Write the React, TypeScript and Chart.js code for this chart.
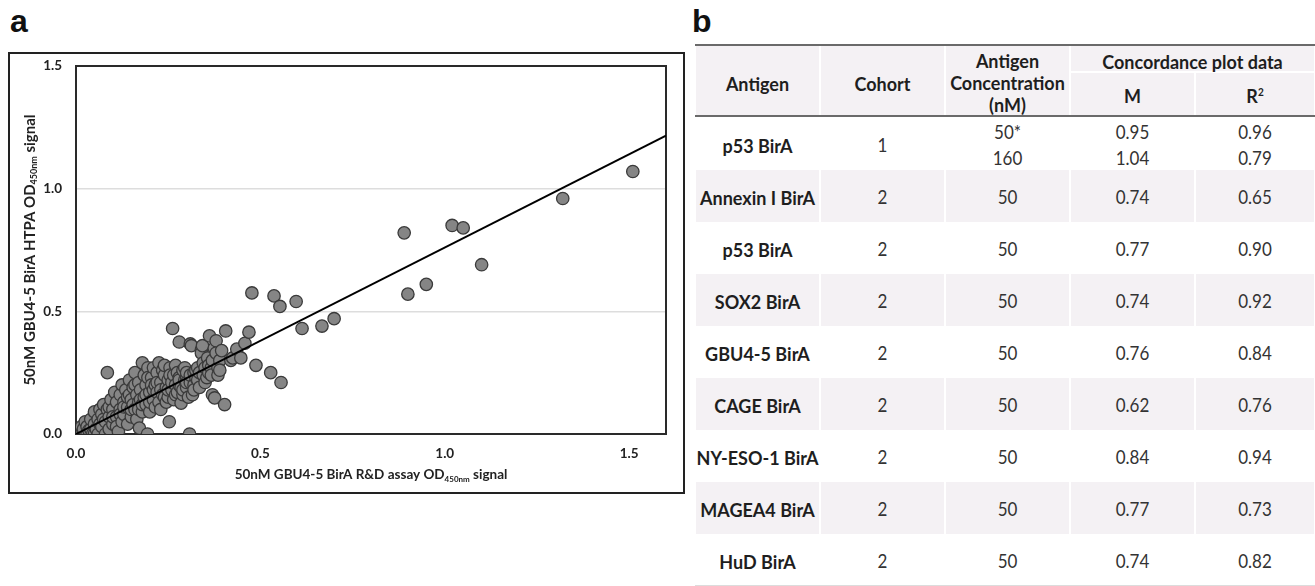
import React, { useEffect, useRef } from "react";
import { Chart, registerables } from "chart.js";

Chart.register(...registerables);

// ---------- Panel a: scatter data (R&D assay OD, HTPA OD) ----------
const concordancePoints: [number, number][] = [
  [0.0, 0.0], [0.005, 0.01], [0.01, 0.0], [0.015, 0.03], [0.02, 0.01], [0.02, 0.02], [0.025, 0.05], [0.03, 0.0], [0.03, 0.03], [0.035, 0.015],
  [0.04, 0.02], [0.04, 0.06], [0.045, 0.0], [0.05, 0.04], [0.05, 0.09], [0.05, 0.0], [0.055, 0.02], [0.06, 0.06], [0.06, 0.0], [0.065, 0.1], [0.065, 0.04],
  [0.07, 0.03], [0.07, 0.08], [0.075, 0.12], [0.075, 0.06], [0.08, 0.05], [0.08, 0.0], [0.085, 0.1], [0.085, 0.25], [0.09, 0.02], [0.09, 0.07], [0.09, 0.11], [0.095, 0.14],
  [0.1, 0.04], [0.1, 0.1], [0.1, 0.07], [0.105, 0.17], [0.11, 0.07], [0.11, 0.13], [0.11, 0.03], [0.115, 0.01], [0.12, 0.1], [0.12, 0.16], [0.12, 0.08], [0.125, 0.05], [0.125, 0.2],
  [0.13, 0.08], [0.13, 0.13], [0.13, 0.11], [0.135, 0.18], [0.14, 0.04], [0.14, 0.11], [0.14, 0.15], [0.145, 0.16], [0.145, 0.22], [0.15, 0.07], [0.15, 0.14], [0.15, 0.1], [0.155, 0.19], [0.155, 0.12],
  [0.16, 0.1], [0.16, 0.25], [0.16, 0.2], [0.165, 0.16], [0.165, 0.06], [0.17, 0.13], [0.17, 0.21], [0.17, 0.1], [0.172, 0.024], [0.175, 0.18], [0.175, 0.14], [0.18, 0.09], [0.18, 0.29], [0.18, 0.12], [0.185, 0.15], [0.185, 0.24],
  [0.19, 0.12], [0.19, 0.2], [0.19, 0.16], [0.194, 0.0], [0.195, 0.27], [0.195, 0.23], [0.2, 0.09], [0.2, 0.17], [0.2, 0.13], [0.205, 0.23], [0.205, 0.2], [0.21, 0.14], [0.21, 0.27], [0.21, 0.18], [0.215, 0.11], [0.215, 0.2],
  [0.22, 0.17], [0.22, 0.25], [0.22, 0.21], [0.225, 0.13], [0.225, 0.29], [0.23, 0.21], [0.23, 0.1], [0.23, 0.18], [0.235, 0.16], [0.235, 0.26], [0.24, 0.24], [0.24, 0.28], [0.24, 0.15], [0.245, 0.13], [0.245, 0.19],
  [0.25, 0.22], [0.25, 0.15], [0.25, 0.18], [0.253, 0.05], [0.255, 0.27], [0.255, 0.24], [0.26, 0.18], [0.26, 0.21], [0.262, 0.43], [0.265, 0.24], [0.265, 0.14], [0.27, 0.2], [0.27, 0.28], [0.27, 0.16],
  [0.275, 0.17], [0.275, 0.25], [0.28, 0.23], [0.28, 0.375], [0.28, 0.2], [0.28, 0.22], [0.285, 0.126], [0.285, 0.19], [0.29, 0.26], [0.29, 0.16], [0.29, 0.18], [0.295, 0.22], [0.295, 0.27],
  [0.3, 0.19], [0.3, 0.23], [0.3, 0.25], [0.3, 0.21], [0.305, 0.15], [0.308, 0.0], [0.31, 0.367], [0.31, 0.21], [0.31, 0.24], [0.313, 0.36], [0.316, 0.16], [0.32, 0.2], [0.32, 0.25], [0.32, 0.18],
  [0.325, 0.23], [0.325, 0.26], [0.33, 0.22], [0.33, 0.27], [0.335, 0.19], [0.335, 0.25], [0.34, 0.343], [0.34, 0.33], [0.343, 0.36], [0.345, 0.24], [0.345, 0.29], [0.35, 0.27], [0.35, 0.21], [0.355, 0.23],
  [0.357, 0.31], [0.36, 0.25], [0.36, 0.28], [0.362, 0.4], [0.367, 0.27], [0.367, 0.24], [0.37, 0.16], [0.37, 0.3], [0.375, 0.35], [0.376, 0.147], [0.38, 0.38], [0.38, 0.33], [0.385, 0.27], [0.385, 0.24], [0.39, 0.3], [0.39, 0.26], [0.395, 0.34],
  [0.403, 0.12], [0.406, 0.42], [0.42, 0.3], [0.425, 0.31], [0.436, 0.346], [0.447, 0.31], [0.458, 0.37], [0.469, 0.415], [0.477, 0.575], [0.488, 0.28],
  [0.528, 0.25], [0.537, 0.563], [0.553, 0.52], [0.556, 0.21], [0.597, 0.54], [0.613, 0.43], [0.667, 0.44], [0.7, 0.47],
  [0.89, 0.82], [0.9, 0.57], [0.95, 0.61], [1.02, 0.85], [1.05, 0.84], [1.1, 0.69], [1.32, 0.96], [1.51, 1.07],
];

// regression line end points (slope M = 0.76)
const fitX = [0, 1.6];
const fitY = [0, 1.216];

const xTickValues = [0, 0.5, 1.0, 1.5];
const yTickValues = [0, 0.5, 1.0, 1.5];

const xTitleParts: [string, boolean][] = [["50nM GBU4-5 BirA R&D assay OD", false], ["450nm", true], [" signal", false]];
const yTitleParts: [string, boolean][] = [["50nM GBU4-5 BirA HTPA OD", false], ["450nm", true], [" signal", false]];

// ---------- Panel b: table data ----------
const antigenNames = ["p53 BirA", "Annexin I BirA", "p53 BirA", "SOX2 BirA", "GBU4-5 BirA", "CAGE BirA", "NY-ESO-1 BirA", "MAGEA4 BirA", "HuD BirA"];
const cohorts = ["1", "2", "2", "2", "2", "2", "2", "2", "2"];
const concentrations = [["50*", "160"], ["50"], ["50"], ["50"], ["50"], ["50"], ["50"], ["50"], ["50"]];
const mValues = [["0.95", "1.04"], ["0.74"], ["0.77"], ["0.74"], ["0.76"], ["0.62"], ["0.84"], ["0.77"], ["0.74"]];
const r2Values = [["0.96", "0.79"], ["0.65"], ["0.90"], ["0.92"], ["0.84"], ["0.76"], ["0.94"], ["0.73"], ["0.82"]];

const FONT = "Lato, 'Open Sans', sans-serif";

function drawRich(ctx: CanvasRenderingContext2D, parts: [string, boolean][], cx: number, cy: number, rotate: boolean, size: number) {
  const mainFont = `bold ${size}px ${FONT}`;
  const subFont = `bold ${Math.round(size * 0.6)}px ${FONT}`;
  const widths = parts.map(([t, s]) => {
    ctx.font = s ? subFont : mainFont;
    return ctx.measureText(t).width;
  });
  const total = widths.reduce((a, b) => a + b, 0);
  ctx.save();
  ctx.translate(cx, cy);
  if (rotate) ctx.rotate(-Math.PI / 2);
  ctx.fillStyle = "#222";
  ctx.textBaseline = "middle";
  ctx.textAlign = "left";
  let x = -total / 2;
  parts.forEach(([t, s], i) => {
    ctx.font = s ? subFont : mainFont;
    ctx.fillText(t, x, s ? size * 0.3 : 0);
    x += widths[i];
  });
  ctx.restore();
}

const framePlugin = {
  id: "plotFrame",
  beforeDatasetsDraw(chart: any) {
    const { ctx, chartArea: a } = chart;
    ctx.save();
    ctx.strokeStyle = "#2a2a2a";
    ctx.lineWidth = 2;
    ctx.strokeRect(a.left, a.top, a.right - a.left, a.bottom - a.top);
    ctx.restore();
  },
  afterDraw(chart: any) {
    const { ctx, chartArea: a } = chart;
    drawRich(ctx, xTitleParts, (a.left + a.right) / 2, a.bottom + 41, false, 13.5);
    drawRich(ctx, yTitleParts, a.left - 46, (a.top + a.bottom) / 2, true, 15);
  },
};

function Scatter() {
  const ref = useRef<HTMLCanvasElement>(null);
  useEffect(() => {
    if (!ref.current) return;
    const chart = new Chart(ref.current, {
      type: "scatter",
      data: {
        datasets: [
          {
            type: "line",
            data: fitX.map((x, i) => ({ x, y: fitY[i] })),
            borderColor: "#000",
            borderWidth: 2,
            pointRadius: 0,
            fill: false,
            order: 0,
          } as any,
          {
            data: concordancePoints.map(([x, y]) => ({ x, y })),
            backgroundColor: "#858585",
            borderColor: "#3a3a3a",
            borderWidth: 1.3,
            pointRadius: 6.2,
            order: 1,
          },
        ],
      },
      options: {
        animation: false,
        responsive: false,
        plugins: { legend: { display: false }, tooltip: { enabled: false } },
        layout: { padding: { left: 0, top: 12, right: 17, bottom: 0 } },
        scales: {
          x: {
            type: "linear",
            min: 0,
            max: 1.6,
            afterFit: (s: any) => { s.height = 58; },
            afterBuildTicks: (s: any) => { s.ticks = xTickValues.map((v) => ({ value: v })); },
            grid: { display: false, drawTicks: false },
            border: { display: false },
            ticks: {
              padding: 12,
              color: "#222",
              font: { family: FONT, size: 13.5, weight: "bold" },
              callback: (v: any) => Number(v).toFixed(1),
            },
          },
          y: {
            type: "linear",
            min: 0,
            max: 1.5,
            afterFit: (s: any) => { s.width = 66; s.paddingTop = 0; s.paddingBottom = 0; },
            afterBuildTicks: (s: any) => { s.ticks = yTickValues.map((v) => ({ value: v })); },
            grid: {
              drawTicks: false,
              lineWidth: 1.5,
              color: (c: any) => (c.tick && (c.tick.value === 0.5 || c.tick.value === 1) ? "#dddddd" : "rgba(0,0,0,0)"),
            },
            border: { display: false },
            ticks: {
              padding: 14,
              color: "#222",
              font: { family: FONT, size: 13.5, weight: "bold" },
              callback: (v: any) => Number(v).toFixed(1),
            },
          },
        },
      },
      plugins: [framePlugin],
    } as any);
    return () => chart.destroy();
  }, []);
  return <canvas ref={ref} width={673} height={438} style={{ position: "absolute", left: 0, top: 0, width: 673, height: 438 }} />;
}

const colLeft = [695, 820, 945, 1070, 1195];
const colWidth = [125, 125, 125, 125, 120];
const SHADE = "#f4f1f4";

function cellStyle(left: number, top: number, width: number, height: number, bg?: string): React.CSSProperties {
  return {
    position: "absolute",
    left,
    top,
    width,
    height,
    background: bg || "transparent",
    display: "flex",
    flexDirection: "column",
    alignItems: "center",
    justifyContent: "center",
    textAlign: "center",
    boxSizing: "border-box",
  };
}

function Table() {
  const headBold: React.CSSProperties = { fontFamily: FONT, fontWeight: 700, fontSize: 18, color: "#1e1e1e", lineHeight: "22px", whiteSpace: "nowrap", transform: "scaleY(1.08)" };
  const nameStyle: React.CSSProperties = { fontFamily: FONT, fontWeight: 700, fontSize: 18, color: "#1e1e1e", lineHeight: "22px", whiteSpace: "nowrap", transform: "scaleY(1.08)" };
  const valStyle: React.CSSProperties = { fontFamily: FONT, fontWeight: 400, fontSize: 17, color: "#333", lineHeight: "26px", whiteSpace: "nowrap", transform: "scaleY(1.15)" };
  const rows: JSX.Element[] = [];
  antigenNames.forEach((name, i) => {
    const top = i === 0 ? 117 : 170 + (i - 1) * 52;
    const h = i === 0 ? 53 : 52;
    const bg = i % 2 === 1 ? SHADE : undefined;
    const cols = [[name], [cohorts[i]], concentrations[i], mValues[i], r2Values[i]];
    cols.forEach((lines, c) => {
      rows.push(
        <div key={`r${i}c${c}`} style={{ ...cellStyle(colLeft[c] + 1, top, colWidth[c] - 2, h, bg), paddingTop: 2 }}>
          {lines.map((t, k) => (
            <div key={k} style={c === 0 ? nameStyle : valStyle}>{t}</div>
          ))}
        </div>
      );
    });
  });
  return (
    <>
      <div style={{ position: "absolute", left: 695, top: 44, width: 620, height: 73, borderTop: "2px solid #6a6a6a", borderBottom: "2px solid #6a6a6a", boxSizing: "border-box", background: "#fff" }} />
      <div style={{ ...cellStyle(colLeft[0] + 1, 46, colWidth[0] - 2, 69, SHADE), paddingTop: 5 }}><div style={headBold}>Antigen</div></div>
      <div style={{ ...cellStyle(colLeft[1] + 1, 46, colWidth[1] - 2, 69, SHADE), paddingTop: 5 }}><div style={headBold}>Cohort</div></div>
      <div style={{ ...cellStyle(colLeft[2] + 1, 46, colWidth[2] - 2, 69, SHADE), paddingTop: 2 }}>
        <div style={headBold}>Antigen</div>
        <div style={headBold}>Concentration</div>
        <div style={headBold}>(nM)</div>
      </div>
      <div style={{ ...cellStyle(colLeft[3] + 1, 46, colWidth[3] + colWidth[4] - 2, 25, SHADE), paddingTop: 4 }}><div style={headBold}>Concordance plot data</div></div>
      <div style={{ ...cellStyle(colLeft[3] + 1, 73, colWidth[3] - 2, 42, SHADE), paddingTop: 2 }}><div style={headBold}>M</div></div>
      <div style={{ ...cellStyle(colLeft[4] + 1, 73, colWidth[4] - 2, 42, SHADE), paddingTop: 2 }}>
        <div style={headBold}>R<sup style={{ fontSize: 10, verticalAlign: "top", position: "relative", top: -3 }}>2</sup></div>
      </div>
      {rows}
      <div style={{ position: "absolute", left: 695, top: 585, width: 620, height: 1, background: "#dcdcdc" }} />
    </>
  );
}

export default function App() {
  return (
    <div style={{ position: "absolute", left: 0, top: 0, width: 1315, height: 586, background: "#fff", overflow: "hidden" }}>
      <div style={{ position: "absolute", left: 10, top: 5, fontFamily: "'Liberation Sans', Arial, sans-serif", fontWeight: 700, fontSize: 32, lineHeight: "32px", color: "#111" }}>a</div>
      <div style={{ position: "absolute", left: 692, top: 5, fontFamily: "'Liberation Sans', Arial, sans-serif", fontWeight: 700, fontSize: 32, lineHeight: "32px", color: "#111" }}>b</div>
      <div style={{ position: "absolute", left: 8, top: 52, width: 677, height: 442, border: "2px solid #222", boxSizing: "border-box" }}>
        <Scatter />
      </div>
      <Table />
    </div>
  );
}
